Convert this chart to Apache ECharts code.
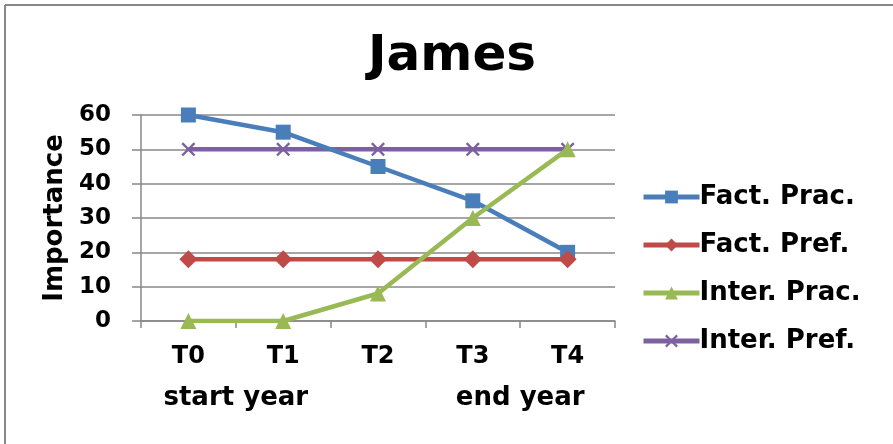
<!DOCTYPE html>
<html><head><meta charset="utf-8">
<script src="https://cdn.jsdelivr.net/npm/echarts@6/dist/echarts.min.js"></script>
<style>html,body{margin:0;padding:0;background:#fff;overflow:hidden}#c{width:893px;height:444px}</style>
</head><body><div id="c"></div>
<script>
const categories = ['T0', 'T1', 'T2', 'T3', 'T4'];
const factPrac = [60, 55, 45, 35, 20];
const factPref = [18, 18, 18, 18, 18];
const interPrac = [0, 0, 8, 30, 50];
const interPref = [50, 50, 50, 50, 50];
const seriesNames = ['Fact. Prac.', 'Fact. Pref.', 'Inter. Prac.', 'Inter. Pref.'];
const yTicks = [0, 10, 20, 30, 40, 50, 60];
const periodLabels = [{ text: 'start year', from: 'T0', to: 'T1' }, { text: 'end year', from: 'T3', to: 'T4' }];

const FONT = '"DejaVu Sans", Verdana, sans-serif';
const colors = ['#4A7EBB', '#BE4B48', '#98B954', '#7D60A0'];
const xSym = 'path://M0,1.2L1.2,0L5,3.8L8.8,0L10,1.2L6.2,5L10,8.8L8.8,10L5,6.2L1.2,10L0,8.8L3.8,5Z';
const symbols = ['rect', 'diamond', 'triangle', xSym];
const symSizes = [15, 18, 16, 14];
const dataSets = [factPrac, factPref, interPrac, interPref];

const chart = echarts.init(document.getElementById('c'), null, { renderer: 'canvas' });
const option = {
  animation: false,
  backgroundColor: '#fff',
  title: {
    text: 'James', left: 447, top: 27, textAlign: 'center',
    textStyle: { fontFamily: FONT, fontWeight: 'bold', fontSize: 50, color: '#000' }
  },
  legend: {
    orient: 'vertical', left: 636, top: 179,
    itemWidth: 56, itemHeight: 16, itemGap: 22,
    lineStyle: { width: 5 },
    textStyle: { fontFamily: FONT, fontWeight: 'bold', fontSize: 26, color: '#000', lineHeight: 26, padding: [0, 0, 0, -5] },
    data: seriesNames
  },
  grid: { left: 141, right: 278, top: 115, bottom: 123, containLabel: false },
  xAxis: {
    type: 'category', data: categories, boundaryGap: true,
    axisLine: { show: true, lineStyle: { color: '#888', width: 1.5 } },
    axisTick: { show: true, length: 7, lineStyle: { color: '#888', width: 1.5 } },
    axisLabel: { margin: 24, fontFamily: FONT, fontWeight: 'bold', fontSize: 24, color: '#000' },
    splitLine: { show: false }
  },
  yAxis: {
    type: 'value', min: yTicks[0], max: yTicks[yTicks.length - 1], interval: 10,
    name: 'Importance', nameLocation: 'middle', nameGap: 72,
    nameTextStyle: { fontFamily: FONT, fontWeight: 'bold', fontSize: 26, color: '#000' },
    axisLine: { show: true, lineStyle: { color: '#888', width: 1.5 } },
    axisTick: { show: true, length: 9, lineStyle: { color: '#888', width: 1.5 } },
    axisLabel: { margin: 30, fontFamily: FONT, fontWeight: 'bold', fontSize: 23, color: '#000' },
    splitLine: { show: true, lineStyle: { color: '#888', width: 1.5 } }
  },
  series: seriesNames.map((n, i) => ({
    name: n, type: 'line', data: dataSets[i],
    symbol: symbols[i], symbolSize: symSizes[i], showSymbol: true,
    lineStyle: { color: colors[i], width: 4.5 },
    itemStyle: { color: colors[i] },
    z: i === 3 ? 2 : 3
  }))
};
chart.setOption(option);

const graphics = [
  { type: 'line', shape: { x1: 5, y1: 5, x2: 893, y2: 5 }, style: { stroke: '#888', lineWidth: 2 }, silent: true },
  { type: 'line', shape: { x1: 5, y1: 5, x2: 5, y2: 444 }, style: { stroke: '#888', lineWidth: 2 }, silent: true }
];
periodLabels.forEach(p => {
  const x1 = chart.convertToPixel({ xAxisIndex: 0 }, p.from);
  const x2 = chart.convertToPixel({ xAxisIndex: 0 }, p.to);
  graphics.push({
    type: 'text', x: (x1 + x2) / 2, y: 398,
    style: { text: p.text, align: 'center', verticalAlign: 'middle', font: 'bold 26px ' + FONT, fill: '#000' }
  });
});
chart.setOption({ graphic: graphics });
</script></body></html>
